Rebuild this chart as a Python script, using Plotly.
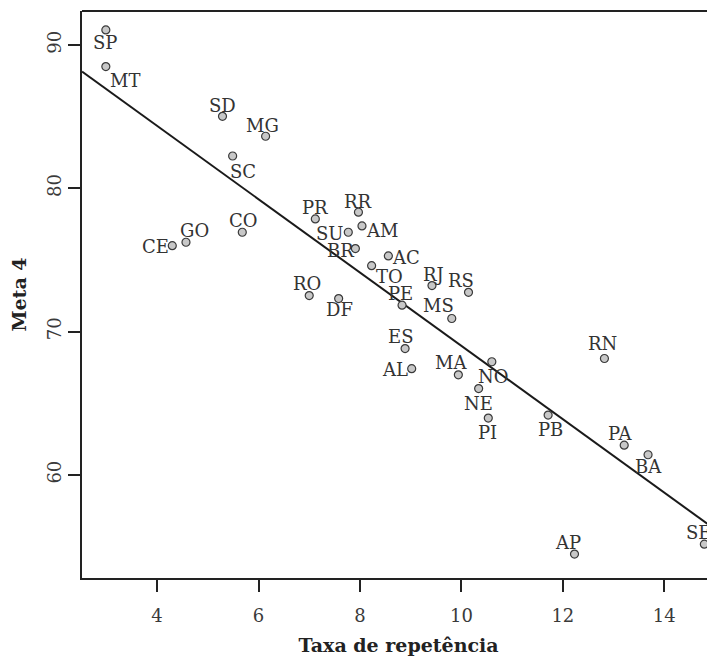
import numpy as np
import plotly.graph_objects as go

# ---- data ----
states = ["SP", "MT", "SD", "MG", "SC", "CO", "GO", "CE", "PR", "RR", "AM",
          "SU", "BR", "AC", "TO", "RJ", "RS", "RO", "DF", "PE", "MS", "ES",
          "AL", "MA", "NO", "NE", "PI", "RN", "PB", "PA", "BA", "SE", "AP"]
taxa_repetencia = [2.99, 2.99, 5.29, 6.14, 5.49, 5.68, 4.57, 4.30, 7.12, 7.97, 8.04,
                   7.77, 7.91, 8.56, 8.23, 9.42, 10.14, 7.00, 7.58, 8.83, 9.81, 8.89,
                   9.02, 9.94, 10.60, 10.34, 10.53, 12.82, 11.71, 13.21, 13.68, 14.79, 12.23]
meta4 = [91.05, 88.49, 85.02, 83.63, 82.25, 76.93, 76.23, 75.99, 77.86, 78.33, 77.37,
         76.93, 75.79, 75.28, 74.60, 73.21, 72.74, 72.51, 72.30, 71.84, 70.91, 68.81,
         67.41, 66.98, 67.89, 66.02, 63.96, 68.12, 64.17, 62.07, 61.40, 55.16, 54.47]
x_ticks = [4, 6, 8, 10, 12, 14]
y_ticks = [60, 70, 80, 90]

# label placement (screen pixel offsets: right, down) -- style only
label_offset = {
    "SP": (-1, 13), "MT": (19, 14), "SD": (0, -11), "MG": (-3, -11), "SC": (10, 15),
    "CO": (1, -12), "GO": (9, -12), "CE": (-17, 1), "PR": (0, -11), "RR": (0, -11),
    "AM": (20, 5), "SU": (-18, 1), "BR": (-15, 2), "AC": (18, 2), "TO": (18, 11),
    "RJ": (2, -11), "RS": (-8, -12), "RO": (-2, -12), "DF": (1, 11), "PE": (-2, -12),
    "MS": (-13, -13), "ES": (-5, -12), "AL": (-17, 1), "MA": (-7, -12), "NO": (2, 15),
    "NE": (0, 15), "PI": (-1, 14), "RN": (-2, -15), "PB": (2, 14), "PA": (-4, -12),
    "BA": (0, 12), "SE": (-6, -12), "AP": (-7, -12),
}

FONT = "DejaVu Serif"
XR = [2.52, 15.0]
YR = [52.8, 92.37]

x = np.array(taxa_repetencia)
y = np.array(meta4)
slope, intercept = np.polyfit(x, y, 1)
line_x = np.array(XR)
line_y = intercept + slope * line_x

fig = go.Figure()
fig.add_trace(go.Scatter(x=line_x, y=line_y, mode="lines",
                         line=dict(color="#1a1a1a", width=2), hoverinfo="skip",
                         showlegend=False))
fig.add_trace(go.Scatter(x=taxa_repetencia, y=meta4, mode="markers", text=states,
                         marker=dict(size=8, color="#c8c8c8",
                                     line=dict(color="#3a3a3a", width=1.2)),
                         showlegend=False))

for s, xv, yv in zip(states, taxa_repetencia, meta4):
    dx, dy = label_offset[s]
    fig.add_annotation(x=xv, y=yv, text=s, showarrow=False, xshift=dx, yshift=-dy,
                       font=dict(family=FONT, size=18, color="#333333"))

fig.add_shape(type="line", xref="paper", yref="paper", x0=0, x1=1, y0=1, y1=1,
              line=dict(color="#222222", width=2))

# the page body adds an 8px offset; size/margins compensate for it
fig.update_layout(
    width=707, height=652,
    margin=dict(l=74, r=0, t=3, b=82, autoexpand=False),
    paper_bgcolor="white", plot_bgcolor="white",
    font=dict(family=FONT, size=18, color="#333333"),
    xaxis=dict(range=XR, tickvals=x_ticks, showgrid=False, zeroline=False,
               showline=True, linecolor="#222222", linewidth=2,
               ticks="outside", ticklen=12, tickwidth=2, tickcolor="#222222",
               tickfont=dict(family=FONT, size=18, color="#3a3a3a"),
               ticklabelstandoff=8, automargin=False,
               title=dict(text="<b>Taxa de repetência</b>", standoff=14,
                          font=dict(family=FONT, size=19, color="#222222"))),
    yaxis=dict(range=YR, tickvals=y_ticks, showgrid=False, zeroline=False,
               showline=True, linecolor="#222222", linewidth=2,
               ticks="outside", ticklen=12, tickwidth=2, tickcolor="#222222",
               tickangle=-90,
               tickfont=dict(family=FONT, size=18, color="#3a3a3a"),
               ticklabelstandoff=0, automargin=False,
               title=dict(text="<b>Meta 4</b>", standoff=14,
                          font=dict(family=FONT, size=19, color="#222222"))),
)

fig.write_html("out.html")
